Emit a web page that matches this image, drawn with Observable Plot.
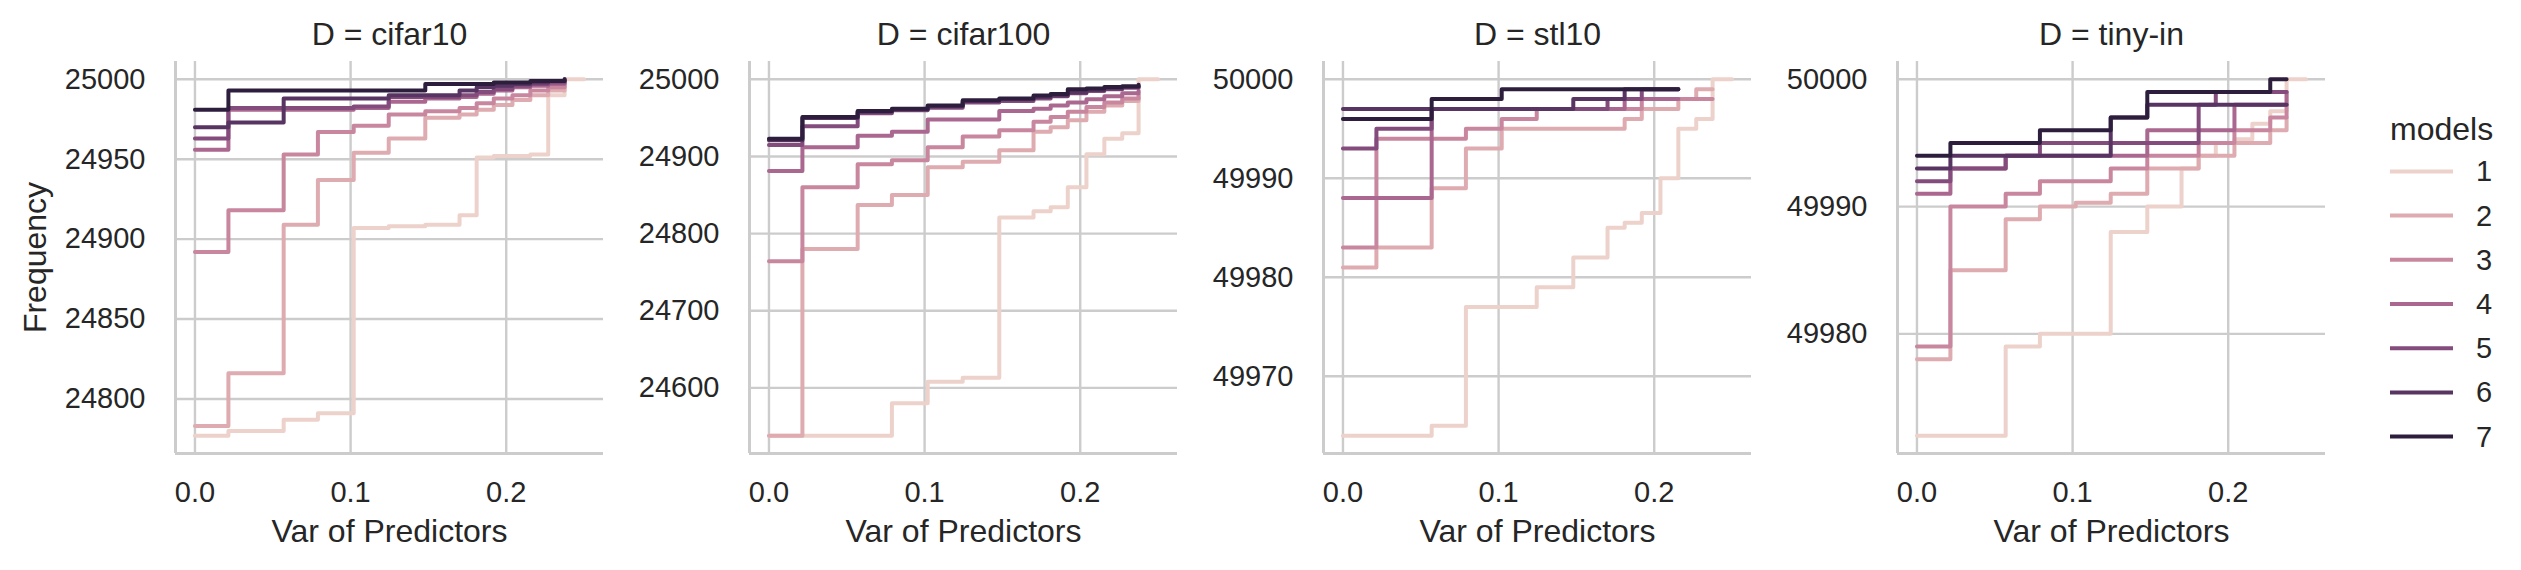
<!DOCTYPE html>
<html>
<head>
<meta charset="utf-8">
<script src="https://cdn.jsdelivr.net/npm/d3@7"></script>
<script src="https://cdn.jsdelivr.net/npm/@observablehq/plot@0.6"></script>
<style>
  html, body { margin: 0; padding: 0; background: #ffffff; }
  #wrap { position: relative; width: 2521px; height: 570px; font-family: "Liberation Sans", Arial, sans-serif; color: #262626; }
  #wrap svg { position: absolute; top: 0; overflow: visible; }
</style>
</head>
<body>
<div id="wrap"></div>
<script>
// ---------- data ----------
const datasets = ["cifar10", "cifar100", "stl10", "tiny-in"];
const models = [1, 2, 3, 4, 5, 6, 7];
const varSteps = [0, 0.0215, 0.057, 0.079, 0.102, 0.1245, 0.148, 0.170, 0.181, 0.192, 0.204, 0.2155, 0.227, 0.2375, 0.25];

const freqCifar10 = [
  [24777, 24780, 24787, 24791, 24907, 24908, 24909, 24915, 24951, 24952, 24952, 24953, 24990, 25000, 25000],
  [24783, 24816, 24909, 24937, 24954, 24963, 24976, 24978, 24981, 24984, 24987, 24990, 24993, 24997, null],
  [24892, 24918, 24953, 24967, 24971, 24978, 24980, 24982, 24985, 24988, 24990, 24993, 24995, 24998, null],
  [24956, 24981, 24981, 24981, 24982, 24986, 24988, 24989, 24991, 24993, 24995, 24996, 24997, 24999, null],
  [24963, 24982, 24982, 24982, 24983, 24989, 24989, 24990, 24992, 24994, 24996, 24997, 24998, 24999, null],
  [24970, 24973, 24988, 24988, 24988, 24990, 24990, 24993, 24995, 24996, 24997, 24998, 24999, 25000, null],
  [24981, 24993, 24993, 24993, 24993, 24993, 24997, 24997, 24997, 24998, 24998, 24999, 24999, 25000, null]
];
const freqCifar100 = [
  [24538, 24538, 24538, 24580, 24608, 24613, 24821, 24829, 24834, 24860, 24903, 24923, 24930, 25000, 25000],
  [24538, 24780, 24837, 24850, 24886, 24893, 24908, 24932, 24938, 24947, 24958, 24966, 24972, 24976, null],
  [24764, 24860, 24890, 24895, 24912, 24926, 24934, 24945, 24951, 24958, 24964, 24970, 24975, 24980, null],
  [24881, 24912, 24927, 24932, 24948, 24948, 24959, 24962, 24966, 24970, 24974, 24978, 24982, 24985, null],
  [24915, 24939, 24956, 24960, 24963, 24970, 24972, 24975, 24978, 24982, 24985, 24987, 24989, 24990, null],
  [24921, 24950, 24958, 24961, 24965, 24972, 24974, 24977, 24979, 24983, 24986, 24988, 24990, 24991, null],
  [24923, 24951, 24959, 24962, 24966, 24973, 24975, 24979, 24981, 24987, 24988, 24990, 24991, 24993, null]
];
const freqStl10 = [
  [49964, 49964, 49965, 49977, 49977, 49979, 49982, 49985, 49985.5, 49986.5, 49990, 49995, 49996, 50000, 50000],
  [49981, 49983, 49989, 49993, 49995, 49995, 49995, 49995, 49996, 49997, 49997, 49998, 49999, 49999, null],
  [49983, 49994, 49994, 49995, 49996, 49997, 49997, 49997, 49997, 49998, 49998, 49998, 49998, 49998, null],
  [49988, 49988, 49997, 49997, 49997, 49997, 49997, 49997, 49998, 49998, 49998, 49998, null, null, null],
  [49993, 49995, 49997, 49997, 49997, 49997, 49997, 49998, 49998, 49999, 49999, 49999, null, null, null],
  [49997, 49997, 49997, 49997, 49997, 49997, 49998, 49998, 49999, 49999, 49999, 49999, null, null, null],
  [49996, 49996, 49998, 49998, 49999, 49999, 49999, 49999, 49999, 49999, 49999, 49999, null, null, null]
];
const freqTinyIn = [
  [49972, 49972, 49979, 49980, 49980, 49988, 49990, 49993, 49994, 49995, 49995.3, 49996.5, 49997.5, 50000, 50000],
  [49978, 49985, 49989, 49990, 49990.3, 49991, 49993, 49993, 49994, 49994, 49995, 49995, 49996, 49997, null],
  [49979, 49990, 49991, 49992, 49992, 49993, 49994, 49994, 49995, 49995, 49996, 49996, 49997, 49998, null],
  [49991, 49993, 49994, 49994, 49994, 49994, 49996, 49996, 49996, 49996, 49998, 49998, 49998, 49999, null],
  [49992, 49993, 49994, 49995, 49995, 49995, 49995, 49995, 49998, 49999, 49999, 49999, 49999, 49999, null],
  [49993, 49994, 49994, 49994, 49994, 49997, 49998, 49998, 49998, 49998, 49998, 49998, 49998, 49998, null],
  [49994, 49995, 49995, 49996, 49996, 49997, 49999, 49999, 49999, 49999, 49999, 49999, 50000, 50000, null]
];
const freqByDataset = [freqCifar10, freqCifar100, freqStl10, freqTinyIn];

const xTicks = [0, 0.1, 0.2];
const yTicksCifar10 = [24800, 24850, 24900, 24950, 25000];
const yTicksCifar100 = [24600, 24700, 24800, 24900, 25000];
const yTicksStl10 = [49970, 49980, 49990, 50000];
const yTicksTinyIn = [49980, 49990, 50000];
const yTicksByDataset = [yTicksCifar10, yTicksCifar100, yTicksStl10, yTicksTinyIn];

// seaborn default cubehelix ("ch:") for numeric hue, light -> dark
const palette = ["#edd1cb", "#deabb0", "#c8879e", "#aa678f", "#834c7d", "#583463", "#2d1e3e"];

// ---------- layout ----------
const FONT = "'Liberation Sans', Arial, sans-serif";
const TEXT = "#262626";
const GRID = "#cccccc";
const panelStep = 574, mL = 175, mT = 61, mB = 117, plotW = 428, H = 570;

const wrap = document.getElementById("wrap");

function pad(domain, f) {
  const r = domain[1] - domain[0];
  return [domain[0] - f * r, domain[1] + f * r];
}

datasets.forEach((ds, i) => {
  const series = freqByDataset[i];
  const rows = [];
  series.forEach((vals, m) => {
    vals.forEach((v, k) => rows.push({ x: varSteps[k], y: v, model: models[m] }));
  });
  const defined = rows.filter(d => d.y != null);
  const xDom = pad(d3.extent(defined, d => d.x), 0.05);
  const yDom = pad(d3.extent(defined, d => d.y), 0.05);
  const yTicks = yTicksByDataset[i];

  const marks = [
    Plot.gridX(xTicks, { stroke: GRID, strokeOpacity: 1, strokeWidth: 2.4 }),
    Plot.gridY(yTicks, { stroke: GRID, strokeOpacity: 1, strokeWidth: 2.4 }),
    Plot.axisX(xTicks, { tickSize: 0, tickPadding: 28, tickFormat: d3.format(".1f"), fontSize: 29, fill: TEXT, label: null }),
    Plot.axisY(yTicks, { tickSize: 0, tickPadding: 30, tickFormat: d => String(d), fontSize: 29, fill: TEXT, label: null }),
    Plot.line(rows, { x: "x", y: "y", z: "model", stroke: "model", curve: "step-after", strokeWidth: 4, strokeLinejoin: "round", strokeLinecap: "round" }),
    Plot.ruleX([xDom[0]], { stroke: GRID, strokeWidth: 3 }),
    Plot.ruleY([yDom[0]], { stroke: GRID, strokeWidth: 3 }),
    Plot.text([`D = ${ds}`], { frameAnchor: "top", lineAnchor: "middle", textAnchor: "middle", dy: -27, fontSize: 32, fill: TEXT }),
    Plot.text(["Var of Predictors"], { frameAnchor: "bottom", lineAnchor: "middle", textAnchor: "middle", dy: 78, fontSize: 32, fill: TEXT })
  ];
  if (i === 0) {
    marks.push(Plot.text(["Frequency"], { frameAnchor: "left", lineAnchor: "middle", textAnchor: "middle", dx: -140, rotate: -90, fontSize: 32, fill: TEXT }));
  }

  const chart = Plot.plot({
    width: mL + plotW,
    height: H,
    marginLeft: mL,
    marginRight: 0,
    marginTop: mT,
    marginBottom: mB,
    style: { background: "transparent", fontFamily: FONT, fontSize: "29px", color: TEXT },
    x: { domain: xDom, label: null, axis: null },
    y: { domain: yDom, label: null, axis: null },
    color: { type: "ordinal", domain: models, range: palette },
    marks
  });
  chart.style.left = (panelStep * i) + "px";
  wrap.appendChild(chart);
});

// ---------- legend ----------
const leg = d3.create("svg")
  .attr("width", 160).attr("height", 380)
  .style("left", "2380px")
  .attr("font-family", FONT);
leg.append("text")
  .attr("x", 10).attr("y", 128.6 - 100)
  .attr("dominant-baseline", "central")
  .attr("font-size", 32).attr("fill", TEXT)
  .text("models");
models.forEach((m, k) => {
  const y = 171.4 + 44.2 * k - 100;
  leg.append("line")
    .attr("x1", 10).attr("x2", 73).attr("y1", y).attr("y2", y)
    .attr("stroke", palette[k]).attr("stroke-width", 4);
  leg.append("text")
    .attr("x", 96).attr("y", y)
    .attr("dominant-baseline", "central")
    .attr("font-size", 29).attr("fill", TEXT)
    .text(String(m));
});
const legNode = leg.node();
legNode.style.top = "100px";
wrap.appendChild(legNode);
</script>
</body>
</html>
